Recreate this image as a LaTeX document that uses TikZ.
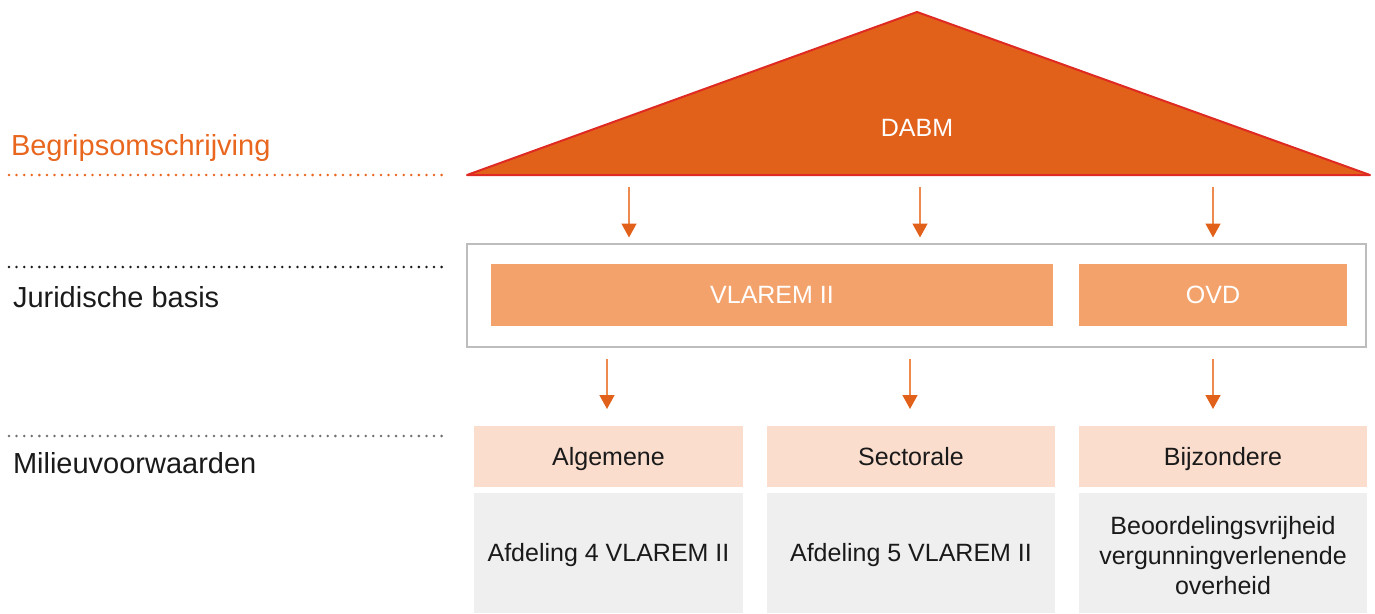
\documentclass[tikz,border=0pt]{standalone}
\usepackage{fontspec}
\setmainfont{Liberation Sans}
\usetikzlibrary{arrows.meta}
\definecolor{triFill}{HTML}{E2611A}
\definecolor{triLine}{HTML}{DE2A22}
\definecolor{midOr}{HTML}{F4A26B}
\definecolor{peach}{HTML}{FADDCD}
\definecolor{lgray}{HTML}{EFEFEF}
\definecolor{boxGray}{HTML}{BDBDBD}
\definecolor{arrLine}{HTML}{EE8A4E}
\definecolor{txtOr}{HTML}{E8661E}
\definecolor{txt}{HTML}{1A1A1A}
\definecolor{dotGray}{HTML}{707070}
\begin{document}
\begin{tikzpicture}[x=1pt,y=-1pt,
  every node/.style={font=\fontsize{25}{30}\selectfont, inner sep=0pt, outer sep=0pt, text=txt},
  lbl/.style={anchor=base west, font=\fontsize{29}{34}\selectfont},
  dotline/.style={line width=2.8pt, line cap=round, dash pattern=on 0pt off 7.59pt},
  onecap/.style={text height=17.9pt, text depth=0pt},
  midbox/.style={fill=midOr, text=white, onecap, minimum height=62pt},
  peachbox/.style={fill=peach, onecap, minimum height=61pt},
  graybox/.style={fill=lgray, minimum height=120pt},
  arr/.style={draw=arrLine, line width=1.5pt, -{Triangle[width=15pt,length=14pt,color=triFill]}}
]
\useasboundingbox (0,0) rectangle (1375,613);

% roof
\coordinate (bl) at (467,175);
\coordinate (apex) at (917,12);
\coordinate (br) at (1370,175);
\filldraw[fill=triFill, draw=triLine, line width=2pt, line join=round] (bl) -- (apex) -- (br) -- cycle;
\node[text=white, onecap] (dabm) at (917,127.5) {DABM};

% left labels and dotted lines
\node[lbl, text=txtOr] (lab1) at (11,155) {Begripsomschrijving};
\node[lbl] (lab2) at (13,307) {Juridische basis};
\node[lbl] (lab3) at (13,473) {Milieuvoorwaarden};
\coordinate (d1s) at (9,175);  \coordinate (d1e) at (443,175);
\coordinate (d2s) at (9,267);  \coordinate (d2e) at (443,267);
\coordinate (d3s) at (9,436);  \coordinate (d3e) at (443,436);
\draw[dotline, txtOr] (d1s) -- (d1e);
\draw[dotline, txt] (d2s) -- (d2e);
\draw[dotline, dotGray] (d3s) -- (d3e);

% legal basis
\node[draw=boxGray, line width=2pt, minimum width=899pt, minimum height=103pt] (outer) at (916.5,295.5) {};
\node[midbox, minimum width=562pt] (vlarem) at (772,295) {VLAREM II};
\node[midbox, minimum width=268pt] (ovd) at (1213,295) {OVD};

% top arrows
\coordinate (a1) at (629,187);
\coordinate (a2) at (920,187);
\coordinate (a3) at (1213,187);
\draw[arr, shorten >=6.5pt] (a1) -- (a1 |- outer.north);
\draw[arr, shorten >=6.5pt] (a2) -- (a2 |- outer.north);
\draw[arr, shorten >=6.5pt] (a3) -- (a3 |- outer.north);

% conditions
\node[peachbox, minimum width=269pt] (alg) at (608.5,456.5) {Algemene};
\node[peachbox, minimum width=288pt] (sec) at (911,456.5) {Sectorale};
\node[peachbox, minimum width=288pt] (bij) at (1223,456.5) {Bijzondere};
\node[graybox, minimum width=269pt] (g1) at (608.5,553) {};
\node[graybox, minimum width=288pt] (g2) at (911,553) {};
\node[graybox, minimum width=288pt] (g3) at (1223,553) {};
\node[onecap] (t1) at (g1.center) {Afdeling 4 VLAREM II};
\node[onecap] (t2) at (g2.center) {Afdeling 5 VLAREM II};
\node[align=center] (t3) at ([yshift=-3pt]g3.center) {Beoordelingsvrijheid\\vergunningverlenende\\overheid};

% bottom arrows
\coordinate (b1) at (607,347);
\coordinate (b2) at (910,347);
\coordinate (b3) at (1213,347);
\draw[arr, shorten <=12pt, shorten >=17pt] (b1) -- (b1 |- alg.north);
\draw[arr, shorten <=12pt, shorten >=17pt] (b2) -- (b2 |- sec.north);
\draw[arr, shorten <=12pt, shorten >=17pt] (b3) -- (b3 |- bij.north);
\end{tikzpicture}
\end{document}
